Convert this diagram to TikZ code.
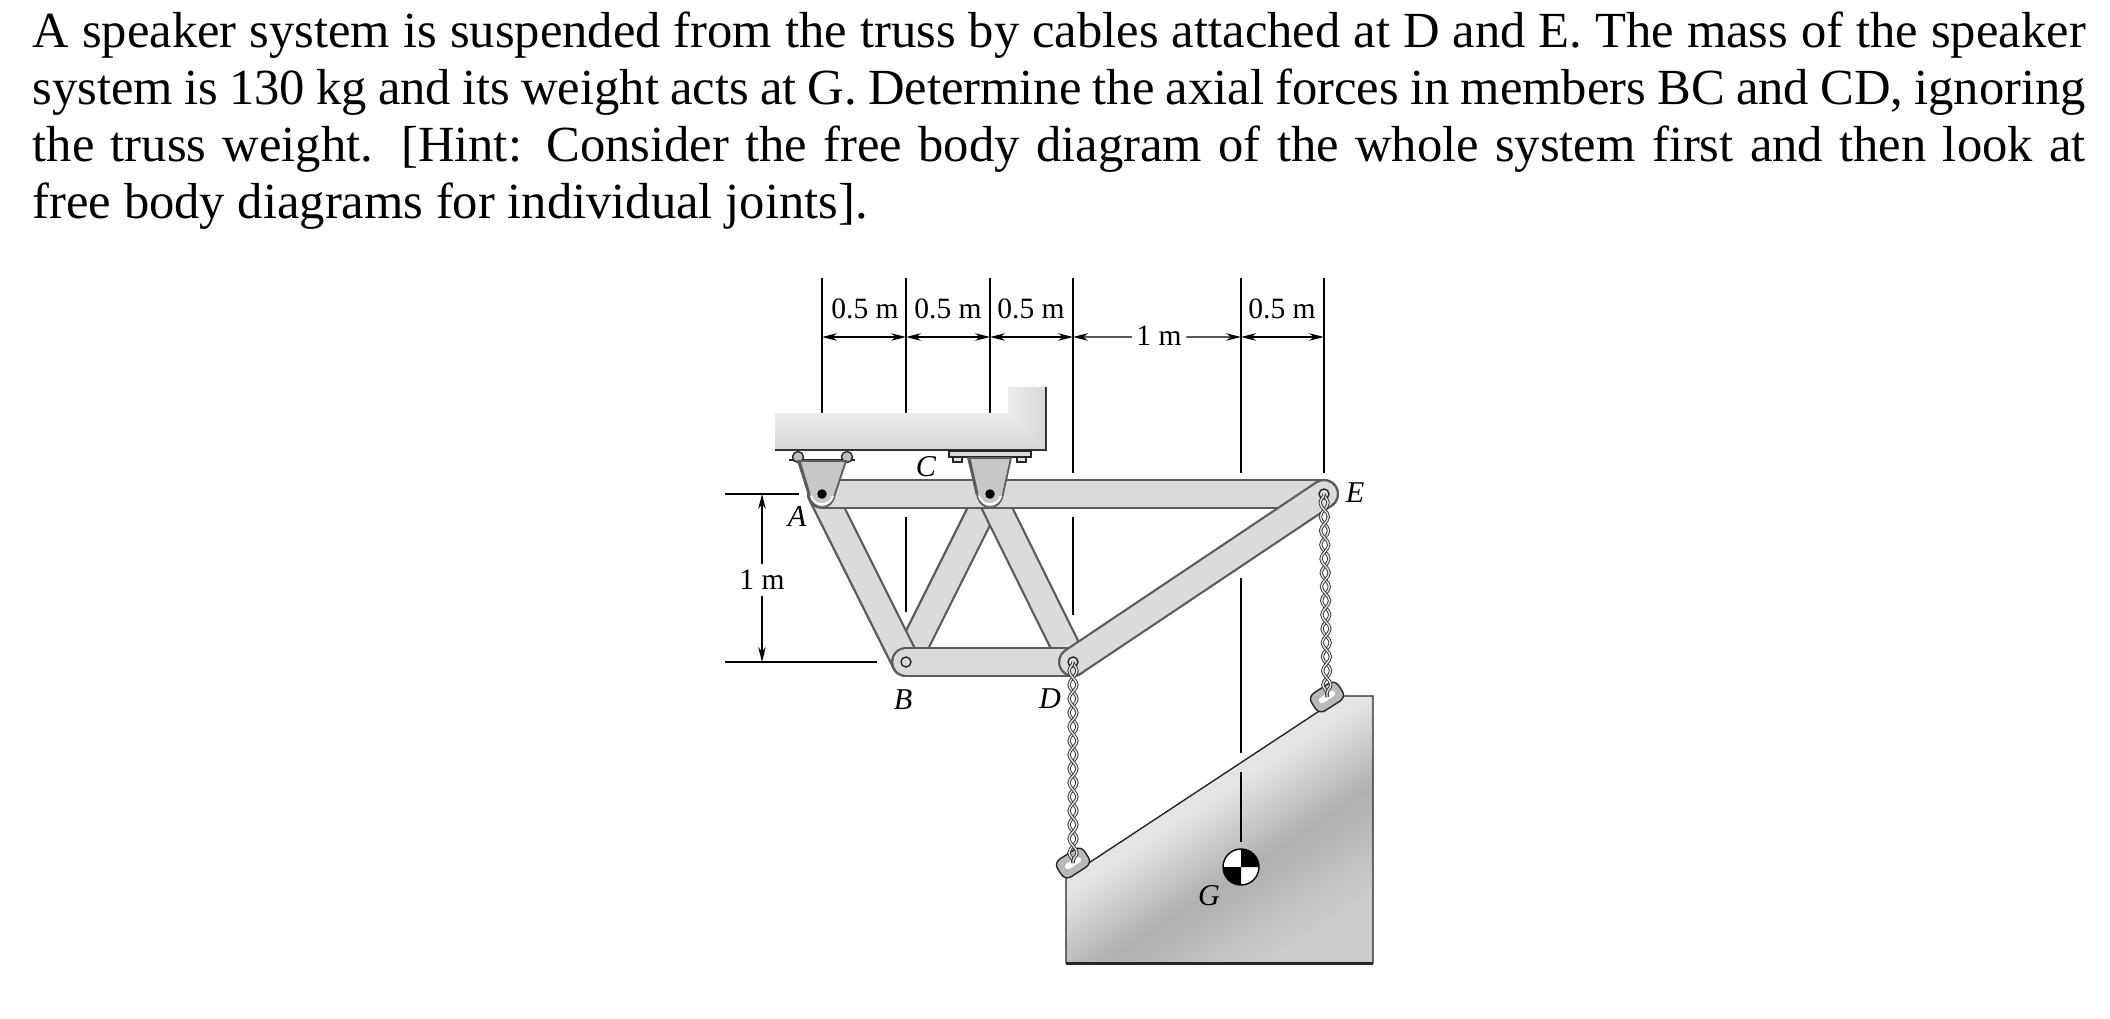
\documentclass[tikz,border=0pt]{standalone}
\usepackage{fontspec}
\setmainfont{Liberation Serif}
\usetikzlibrary{arrows.meta,decorations.pathmorphing}

\definecolor{memberfill}{gray}{0.86}
\definecolor{memberedge}{gray}{0.36}
\definecolor{bracketfill}{gray}{0.78}
\definecolor{speakerlow}{gray}{0.80}
\definecolor{speakermid}{gray}{0.69}
\definecolor{speakertop}{gray}{0.90}
\pgfdeclareverticalshading{speakerglow}{100bp}{color(0bp)=(speakerlow); color(26bp)=(speakerlow); color(41.6bp)=(speakermid); color(55.5bp)=(speakertop); color(100bp)=(speakertop)}

\tikzset{
  dimline/.style={line width=0.014cm, black},
  dimarrow/.style={line width=0.014cm, black, {Stealth[length=0.15cm,width=0.075cm]}-{Stealth[length=0.15cm,width=0.075cm]}},
  dimhalf/.style={line width=0.014cm, black, -{Stealth[length=0.15cm,width=0.075cm]}},
  dimtext/.style={font=\fontsize{8.4}{10}\selectfont, inner sep=0pt},
  pointtext/.style={font=\fontsize{8.6}{10}\selectfont\itshape, inner sep=0pt},
  memberout/.style={line width=0.30cm, memberedge, line cap=round},
  memberin/.style={line width=0.255cm, memberfill, line cap=round, yshift=0.018cm},
  bracket/.style={fill=bracketfill, draw=memberedge, line width=0.018cm},
  strandout/.style={line width=0.032cm, gray!40!black, decorate, decoration={snake, segment length=0.28cm, amplitude=0.04cm}},
  strandin/.style={line width=0.014cm, gray!20, decorate, decoration={snake, segment length=0.28cm, amplitude=0.04cm}},
  eye/.style={draw=gray!30!black, fill=gray!55, line width=0.014cm, rounded corners=0.07cm, minimum width=0.32cm, minimum height=0.21cm, inner sep=0pt, rotate=33},
}

\newcommand{\member}[2]{%
  \draw [memberout] (#1) -- (#2);%
  \draw [memberin] (#1) -- (#2);%
}
\newcommand{\cable}[2]{%
  \draw [strandout] (#1) -- (#2);%
  \draw [strandin] (#1) -- (#2);%
  \draw [strandout, decoration={mirror}] (#1) -- (#2);%
  \draw [strandin, decoration={mirror}] (#1) -- (#2);%
}

\begin{document}
\begin{tikzpicture}
  \useasboundingbox (0,0) rectangle (21.10,10.18);

  % Marking the statement
  \node (statement) [anchor=north west, inner sep=0pt, text width=20.53cm, align=justify, font=\fontsize{14.4}{16.2}\selectfont] at (0.32,10.07)
  {A speaker system is suspended from the truss by cables attached at D and E. The mass of the speaker\linebreak
   system is 130 kg and its weight acts at G. Determine the axial forces in members BC and CD, ignoring\linebreak
   the truss weight. [Hint: Consider the free body diagram of the whole system first and then look at\linebreak
   free body diagrams for individual joints].};

  % Truss joints
  \coordinate (A) at (8.22,5.24);
  \coordinate (B) at (9.06,3.56);
  \coordinate (C) at (9.90,5.24);
  \coordinate (D) at (10.73,3.56);
  \coordinate (E) at (13.24,5.24);

  % Drawing extension lines
  \draw [dimline] (8.22,7.40) -- (8.22,5.95);
  \draw [dimline] (9.06,7.40) -- (9.06,5.95);
  \draw [dimline] (9.90,7.40) -- (9.90,5.95);
  \draw [dimline] (10.73,7.40) -- (10.73,5.45);
  \draw [dimline] (12.41,7.40) -- (12.41,5.45);
  \draw [dimline] (13.24,7.40) -- (13.24,5.45);
  \draw [dimline] (9.06,5.01) -- (9.06,4.06);
  \draw [dimline] (10.73,5.01) -- (10.73,4.03);
  \draw [dimline] (12.41,4.40) -- (12.41,2.65);
  \draw [dimline] (7.25,5.24) -- (7.99,5.24);
  \draw [dimline] (7.25,3.56) -- (8.77,3.56);

  % Drawing horizontal dimensions
  \coordinate (dimA) at (8.22,6.81);
  \coordinate (dimB) at (9.06,6.81);
  \coordinate (dimC) at (9.90,6.81);
  \coordinate (dimD) at (10.73,6.81);
  \coordinate (dimG) at (12.41,6.81);
  \coordinate (dimE) at (13.24,6.81);
  \draw [dimarrow] (dimA) -- (dimB);
  \draw [dimarrow] (dimB) -- (dimC);
  \draw [dimarrow] (dimC) -- (dimD);
  \draw [dimarrow] (dimG) -- (dimE);
  \node (dimAB) [dimtext] at (8.65,7.09) {0.5 m};
  \node (dimBC) [dimtext] at (9.48,7.09) {0.5 m};
  \node (dimCD) [dimtext] at (10.31,7.09) {0.5 m};
  \node (dimDG) [dimtext] at (11.59,6.82) {1 m};
  \node (dimGE) [dimtext] at (12.82,7.09) {0.5 m};
  \draw [dimhalf] (dimDG.west) ++(-0.04,-0.01) -- (dimD);
  \draw [dimhalf] (dimDG.east) ++(0.04,-0.01) -- (dimG);

  % Drawing vertical dimension
  \coordinate (dimtop) at (7.62,5.24);
  \coordinate (dimbot) at (7.62,3.56);
  \node (dimheight) [dimtext] at (7.62,4.38) {1 m};
  \draw [dimhalf] (dimheight.north) ++(0,0.06) -- (dimtop);
  \draw [dimhalf] (dimheight.south) ++(0,-0.06) -- (dimbot);

  % Drawing the support
  \shade [top color=gray!14, bottom color=gray!32] (7.75,5.68) rectangle (10.46,6.05);
  \shade [left color=gray!14, right color=gray!32] (10.08,6.05) -- (10.08,6.31) -- (10.46,6.31) -- (10.46,5.68) -- cycle;
  \draw [line width=0.018cm, gray!40!black] (7.75,5.68) -- (10.46,5.68) -- (10.46,6.31);

  % Drawing plate and bolts at C
  \draw [fill=gray!30, draw=gray!30!black, line width=0.012cm] (9.49,5.61) rectangle (10.31,5.67);
  \draw [fill=gray!20, draw=gray!30!black, line width=0.012cm] (9.53,5.56) rectangle (9.62,5.61);
  \draw [fill=gray!20, draw=gray!30!black, line width=0.012cm] (10.17,5.56) rectangle (10.26,5.61);

  % Drawing members of the truss
  \member{C}{B}
  \member{C}{D}
  \member{A}{B}
  \member{A}{E}
  \member{B}{D}
  \member{D}{E}

  % Drawing links and rollers at A
  \draw [line width=0.018cm, gray!30!black] (7.89,5.58) -- (8.55,5.58);
  \draw [fill=gray!50, draw=gray!30!black, line width=0.014cm] (7.98,5.61) circle (0.055);
  \draw [fill=gray!50, draw=gray!30!black, line width=0.014cm] (8.47,5.61) circle (0.055);

  % Drawing bracket A
  \draw [bracket] (7.98,5.57) -- (8.09,5.24) .. controls (8.12,5.06) and (8.32,5.06) .. (8.35,5.24) -- (8.46,5.57) -- cycle;
  \draw [memberedge, line width=0.03cm] (7.99,5.57) -- (8.09,5.24);
  \draw [white, line width=0.02cm] (8.11,5.22) .. controls (8.14,5.11) and (8.30,5.11) .. (8.33,5.22);
  \draw [fill=black] (A) circle (0.04);

  % Drawing bracket C
  \draw [bracket] (9.68,5.60) -- (9.77,5.24) .. controls (9.80,5.06) and (10.00,5.06) .. (10.03,5.24) -- (10.11,5.60) -- cycle;
  \draw [memberedge, line width=0.03cm] (9.69,5.60) -- (9.77,5.24);
  \draw [white, line width=0.02cm] (9.79,5.22) .. controls (9.82,5.11) and (9.98,5.11) .. (10.01,5.22);
  \draw [fill=black] (C) circle (0.04);

  % Marking pins B, D and E
  \draw [fill=memberfill, draw=gray!30!black, line width=0.014cm] (B) circle (0.05);
  \draw [fill=memberfill, draw=gray!30!black, line width=0.014cm] (D) circle (0.05);
  \draw [fill=memberfill, draw=gray!30!black, line width=0.014cm] (E) circle (0.05);

  % Drawing the speaker
  \draw [shading=speakerglow, shading angle=33, draw=gray!30!black, line width=0.014cm] (10.66,1.40) -- (10.66,0.55) -- (13.73,0.55) -- (13.73,3.22) -- (13.42,3.22) -- cycle;
  \draw [line width=0.03cm, gray!30!black] (10.66,0.55) -- (13.73,0.55);
  \draw [dimline] (12.41,2.46) -- (12.41,1.76);

  % Drawing eyes of the cables
  \node (eyeD) [eye] at (10.73,1.55) {};
  \node (eyeE) [eye] at (13.27,3.21) {};
  \draw [white, line width=0.06cm, line cap=round, rotate around={33:(10.73,1.55)}] (10.67,1.55) -- (10.79,1.55);
  \draw [white, line width=0.06cm, line cap=round, rotate around={33:(13.27,3.21)}] (13.21,3.21) -- (13.33,3.21);

  % Drawing cables
  \cable{D}{eyeD.center}
  \cable{E}{eyeE.center}

  % Marking point G by circle
  \coordinate (G) at (12.41,1.51);
  \fill [white] (G) circle (0.18);
  \fill [black] (G) -- (12.59,1.51) arc (0:90:0.18) -- cycle;
  \fill [black] (G) -- (12.23,1.51) arc (180:270:0.18) -- cycle;
  \draw [line width=0.014cm] (G) circle (0.18);

  % Marking points A to G
  \node (labelA) [pointtext] at (7.97,5.01) {A};
  \node (labelB) [pointtext] at (9.03,3.18) {B};
  \node (labelC) [pointtext] at (9.26,5.51) {C};
  \node (labelD) [pointtext] at (10.50,3.19) {D};
  \node (labelE) [pointtext] at (13.55,5.25) {E};
  \node (labelG) [pointtext] at (12.09,1.22) {G};
\end{tikzpicture}
\end{document}
